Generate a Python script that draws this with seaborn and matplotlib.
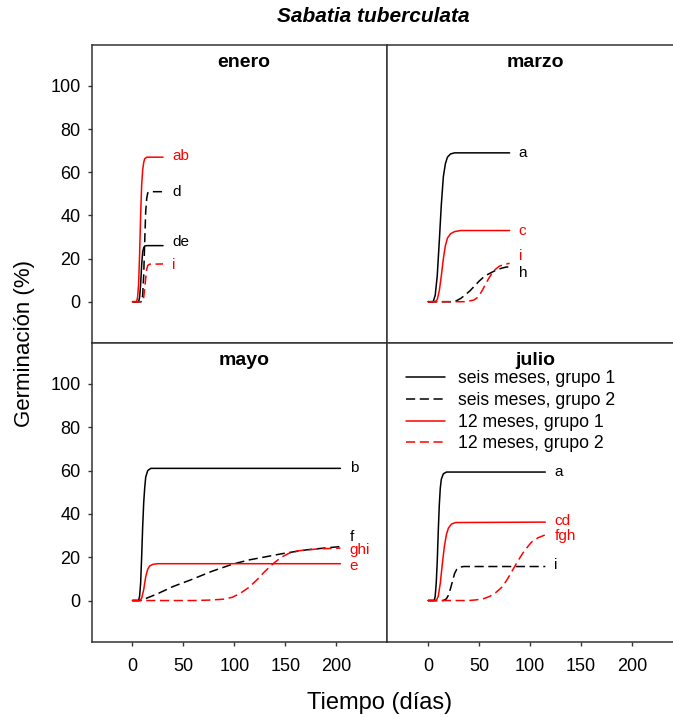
import matplotlib
matplotlib.use("Agg")
import matplotlib.pyplot as plt
import seaborn as sns
import pandas as pd
from matplotlib.lines import Line2D

# ---------------- data ----------------
series_names = ["seis meses, grupo 1", "seis meses, grupo 2",
                "12 meses, grupo 1", "12 meses, grupo 2"]
panel_names = ["enero", "marzo", "mayo", "julio"]

# enero
enero_s1_x = [0, 6, 7, 8, 9, 10, 11, 12, 14, 30]
enero_s1_y = [0, 0, 2, 8, 17, 23, 25, 25.8, 26, 26]
enero_s2_x = [0, 9, 10, 11, 12, 13, 14, 15, 17, 30]
enero_s2_y = [0, 0, 3, 12, 28, 42, 48, 50.5, 51, 51]
enero_r1_x = [0, 4, 5, 6, 7, 8, 9, 10, 11, 12, 14, 30]
enero_r1_y = [0, 0, 2, 8, 22, 40, 54, 61, 64.5, 66.3, 67, 67]
enero_r2_x = [0, 10, 11, 12, 13, 14, 15, 17, 30]
enero_r2_y = [0, 0, 2, 6, 11, 15, 16.8, 17.4, 17.5]

# marzo
marzo_s1_x = [0, 5, 7, 9, 11, 13, 15, 17, 19, 22, 26, 80]
marzo_s1_y = [0, 0, 3, 12, 28, 45, 58, 64, 67, 68.5, 69, 69]
marzo_s2_x = [0, 22, 28, 32, 36, 41, 46, 50, 54, 58, 62, 67, 72, 76, 80]
marzo_s2_y = [0, 0, 0.5, 1.5, 3, 5, 7.5, 9.5, 11.2, 12.5, 13.5, 14.7, 15.5, 16, 16.2]
marzo_r1_x = [0, 7, 9, 11, 13, 15, 17, 19, 22, 26, 32, 80]
marzo_r1_y = [0, 0, 1, 5, 12, 20, 26, 29.5, 31.5, 32.5, 33, 33]
marzo_r2_x = [0, 35, 40, 45, 48, 51, 54, 57, 60, 63, 66, 70, 75, 80]
marzo_r2_y = [0, 0, 0.3, 0.8, 1.8, 3.5, 6, 8.7, 11.2, 13.3, 15, 16.5, 17.3, 17.8]

# mayo
mayo_s1_x = [0, 6, 7, 8, 9, 10, 11, 12, 13, 15, 18, 204]
mayo_s1_y = [0, 0, 2, 8, 20, 34, 45, 52, 57, 60, 61, 61]
mayo_s2_x = [0, 8, 15, 24, 40, 57, 78, 99, 115, 132, 150, 171, 190, 204]
mayo_s2_y = [0, 0, 1.3, 3, 6.5, 9.5, 13.5, 16.9, 18.8, 20.3, 21.9, 23.4, 24.3, 24.9]
mayo_r1_x = [0, 7, 9, 11, 13, 15, 17, 20, 25, 204]
mayo_r1_y = [0, 0, 1, 5, 11, 14.5, 16, 16.7, 17, 17]
mayo_r2_x = [0, 60, 75, 89, 98, 106, 114, 122, 130, 138, 146, 154, 162, 171, 185, 204]
mayo_r2_y = [0, 0, 0.2, 0.6, 1.5, 3.4, 6, 9.5, 13.5, 17, 20, 21.9, 22.9, 23.4, 23.9, 24.2]

# julio
julio_s1_x = [0, 6, 7, 8, 9, 10, 11, 12, 13, 15, 18, 115]
julio_s1_y = [0, 0, 2, 8, 18, 32, 44, 52, 56, 58.5, 59.3, 59.3]
julio_s2_x = [0, 15, 18, 20, 22, 24, 26, 28, 31, 35, 115]
julio_s2_y = [0, 0, 0.8, 2.5, 5.5, 9, 12.5, 14.3, 15.4, 15.7, 15.7]
julio_r1_x = [0, 8, 10, 12, 14, 16, 18, 20, 23, 27, 115]
julio_r1_y = [0, 0, 2, 8, 17, 25, 30.5, 33.5, 35.3, 36, 36.2]
julio_r2_x = [0, 40, 47, 54, 60, 66, 73, 78, 83, 88, 93, 98, 102, 108, 115]
julio_r2_y = [0, 0, 0.3, 0.8, 1.8, 3.5, 6.4, 10, 14.1, 18.2, 21.9, 25, 27.2, 29, 30.3]

# significance letters (text, series colour index, y value)
enero_letters = ["ab", "d", "de", "i"]
enero_letter_series = [2, 1, 0, 3]
enero_letter_y = [67.6, 51, 27.8, 17.2]
marzo_letters = ["a", "c", "i", "h"]
marzo_letter_series = [0, 2, 3, 1]
marzo_letter_y = [69, 33, 21, 13.5]
mayo_letters = ["b", "f", "ghi", "e"]
mayo_letter_series = [0, 1, 3, 2]
mayo_letter_y = [61.3, 29.4, 23.4, 16]
julio_letters = ["a", "cd", "fgh", "i"]
julio_letter_series = [0, 2, 3, 1]
julio_letter_y = [59.4, 36.8, 29.9, 16.5]

# ---------------- build tidy table ----------------
curves = {
    "enero": [(enero_s1_x, enero_s1_y), (enero_s2_x, enero_s2_y),
              (enero_r1_x, enero_r1_y), (enero_r2_x, enero_r2_y)],
    "marzo": [(marzo_s1_x, marzo_s1_y), (marzo_s2_x, marzo_s2_y),
              (marzo_r1_x, marzo_r1_y), (marzo_r2_x, marzo_r2_y)],
    "mayo": [(mayo_s1_x, mayo_s1_y), (mayo_s2_x, mayo_s2_y),
             (mayo_r1_x, mayo_r1_y), (mayo_r2_x, mayo_r2_y)],
    "julio": [(julio_s1_x, julio_s1_y), (julio_s2_x, julio_s2_y),
              (julio_r1_x, julio_r1_y), (julio_r2_x, julio_r2_y)],
}
letters = {
    "enero": (enero_letters, enero_letter_series, enero_letter_y),
    "marzo": (marzo_letters, marzo_letter_series, marzo_letter_y),
    "mayo": (mayo_letters, mayo_letter_series, mayo_letter_y),
    "julio": (julio_letters, julio_letter_series, julio_letter_y),
}
rows = []
for p in panel_names:
    for si, (xs, ys) in enumerate(curves[p]):
        for xv, yv in zip(xs, ys):
            rows.append({"mes": p, "serie": series_names[si], "dia": xv, "germ": yv})
df = pd.DataFrame(rows)

# ---------------- style ----------------
sns.set_style("white")
plt.rcParams["font.family"] = ["Liberation Sans", "DejaVu Sans"]
plt.rcParams["text.color"] = "black"
plt.rcParams["axes.labelcolor"] = "black"
plt.rcParams["xtick.color"] = "black"
plt.rcParams["ytick.color"] = "black"

colors = {series_names[0]: "black", series_names[1]: "black",
          series_names[2]: "red", series_names[3]: "red"}
dash_map = {series_names[0]: "", series_names[1]: (6, 3),
            series_names[2]: "", series_names[3]: (6, 3)}

W, H = 673, 717
fig = plt.figure(figsize=(W / 100, H / 100), dpi=100)

L = 91.7
MID = 387.3
PW = MID - L
TOP = 45.0
HMID = 342.7
BOT = 641.7

def rect(x0, y0, x1, y1):
    return [x0 / W, 1 - y1 / H, (x1 - x0) / W, (y1 - y0) / H]

axes = {
    "enero": fig.add_axes(rect(L, TOP, MID, HMID)),
    "marzo": fig.add_axes(rect(MID, TOP, MID + PW, HMID)),
    "mayo": fig.add_axes(rect(L, HMID, MID, BOT)),
    "julio": fig.add_axes(rect(MID, HMID, MID + PW, BOT)),
}

for p in panel_names:
    ax = axes[p]
    sub = df[df["mes"] == p]
    sns.lineplot(data=sub, x="dia", y="germ", hue="serie", style="serie",
                 palette=colors, dashes=dash_map, hue_order=series_names,
                 style_order=series_names, estimator=None, sort=False,
                 legend=False, ax=ax, linewidth=1.1)
    ax.set_xlim(-40, 250)
    ax.set_ylim(-19, 119)
    ax.set_xlabel("")
    ax.set_ylabel("")
    for sp in ax.spines.values():
        sp.set_color("#333333")
        sp.set_linewidth(1.1)
        sp.set_visible(True)
    ax.set_xticks([0, 50, 100, 150, 200])
    ax.set_yticks([0, 20, 40, 60, 80, 100])
    ax.tick_params(axis="both", direction="out", length=3, width=1,
                   color="#333333", labelcolor="black", labelsize=13, pad=5)
    if p in ("enero", "marzo"):
        ax.tick_params(axis="x", bottom=False, labelbottom=False)
    if p in ("marzo", "julio"):
        ax.tick_params(axis="y", left=False, labelleft=False)
    else:
        ax.tick_params(axis="y", left=True, labelleft=True)
    if p in ("mayo", "julio"):
        ax.tick_params(axis="x", bottom=True, labelbottom=True, pad=9)

    xtitle = 0.515 if p in ("enero", "mayo") else 0.5
    ax.text(xtitle, 0.94, p, transform=ax.transAxes, ha="center", va="center",
            fontsize=14, fontweight="bold", color="black")

    # letters
    txts, sidx, ly = letters[p]
    xend = max(curves[p][0][0])
    for t, si, yv in zip(txts, sidx, ly):
        ax.text(xend + 9, yv, t, color=colors[series_names[si]],
                fontsize=11, ha="left", va="center")

# legend in julio
handles = [Line2D([0], [0], color=colors[s], lw=1.1,
                  linestyle="-" if dash_map[s] == "" else (0, dash_map[s]))
           for s in series_names]
axes["julio"].legend(handles, series_names, loc="upper left",
                     bbox_to_anchor=(0.064, 0.908), frameon=False,
                     fontsize=12.7, handlelength=2.2, handletextpad=0.75,
                     labelspacing=0.27, borderpad=0, borderaxespad=0)

fig.text(373 / W, 1 - 17 / H, "Sabatia tuberculata", ha="center", va="center",
         fontsize=15, fontweight="bold", fontstyle="italic")
fig.text(25 / W, 1 - 343 / H, "Germinación (%)", rotation=90, ha="center",
         va="center", fontsize=16)
fig.text(380 / W, 1 - 703 / H, "Tiempo (días)", ha="center", va="center",
         fontsize=17)

fig.savefig("out.png", dpi=100)
